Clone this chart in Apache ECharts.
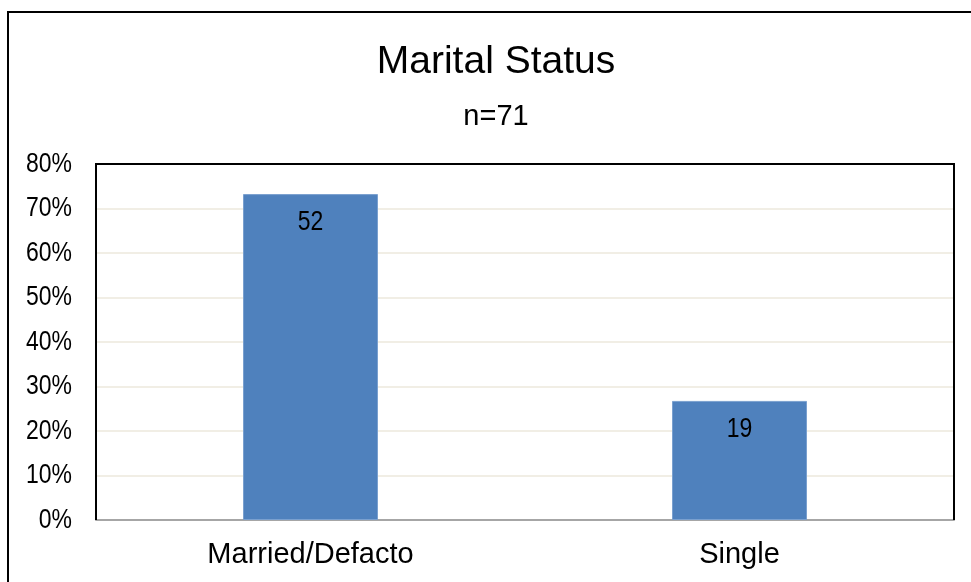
<!DOCTYPE html>
<html>
<head>
<meta charset="utf-8">
<style>
  html, body { margin: 0; padding: 0; background: #ffffff; }
  #chart { width: 971px; height: 582px; }
</style>
<script src="https://cdn.jsdelivr.net/npm/echarts@6/dist/echarts.min.js"></script>
</head>
<body>
<div id="chart"></div>
<script>
// Respondents by marital status
const categories = ['Married/Defacto', 'Single'];
const counts = [52, 19];
const total = 71;
const yTicks = [0, 10, 20, 30, 40, 50, 60, 70, 80];

const shares = counts.map(c => c / total * 100);

const regular = "'Liberation Sans', Arial, sans-serif";
// condensed look for numbers: regular face squeezed horizontally
const NARROW = 0.82;

const W = 971, H = 582;
const GRID = { left: 96, right: 17, top: 164, bottom: 62 };

const chart = echarts.init(document.getElementById('chart'), null, { renderer: 'canvas' });

chart.setOption({
  animation: false,
  backgroundColor: '#ffffff',
  title: [
    {
      text: 'Marital Status',
      left: 491, top: 38, textAlign: 'center',
      textStyle: { fontFamily: regular, fontSize: 39, fontWeight: 'normal', color: '#000' }
    },
    {
      text: 'n=' + total,
      left: 491, top: 97, textAlign: 'center',
      textStyle: { fontFamily: regular, fontSize: 29, fontWeight: 'normal', color: '#000' }
    }
  ],
  grid: {
    left: GRID.left, right: GRID.right, top: GRID.top, bottom: GRID.bottom,
    show: false
  },
  xAxis: {
    type: 'category',
    data: categories,
    axisTick: { show: false },
    axisLine: { show: true, lineStyle: { color: '#a6a6a6', width: 2 } },
    axisLabel: { fontFamily: regular, fontSize: 29, color: '#000', margin: 20 }
  },
  yAxis: {
    type: 'value',
    min: yTicks[0],
    max: yTicks[yTicks.length - 1],
    interval: 10,
    axisLine: { show: false },
    axisTick: { show: false },
    splitLine: { show: true, lineStyle: { color: '#ece9dd', width: 1.5 } },
    axisLabel: { show: false }
  },
  series: [
    {
      type: 'bar',
      data: shares,
      barWidth: 135,
      itemStyle: { color: '#4f81bd', borderColor: '#7aa0cf', borderWidth: 1 },
      label: { show: false }
    }
  ]
});

// Narrow tick labels and bar count labels placed through the axis scales
const gLeft = GRID.left, gTop = GRID.top;
const gRight = W - GRID.right, gBottom = H - GRID.bottom;

const graphics = [
  {
    type: 'rect',
    shape: { x: 8, y: 12, width: 990, height: 600 },
    style: { fill: 'none', stroke: '#000', lineWidth: 2 },
    silent: true, z: 100
  },
  {
    type: 'polyline',
    shape: { points: [[gLeft, gBottom], [gLeft, gTop], [gRight, gTop], [gRight, gBottom]] },
    style: { fill: 'none', stroke: '#000', lineWidth: 2 },
    silent: true, z: 100
  }
];

yTicks.forEach(v => {
  const y = chart.convertToPixel({ yAxisIndex: 0 }, v);
  graphics.push({
    type: 'text',
    x: gLeft - 24, y: y, scaleX: NARROW,
    style: {
      text: v + '%', x: 0, y: 0, align: 'right', verticalAlign: 'middle',
      fontFamily: regular, fontSize: 28, fill: '#000'
    },
    silent: true, z: 100
  });
});

counts.forEach((c, i) => {
  const p = chart.convertToPixel({ seriesIndex: 0 }, [i, shares[i]]);
  graphics.push({
    type: 'text',
    x: p[0], y: p[1] + 28.5, scaleX: NARROW,
    style: {
      text: String(c), x: 0, y: 0, align: 'center', verticalAlign: 'middle',
      fontFamily: regular, fontSize: 28, fill: '#000'
    },
    silent: true, z: 100
  });
});

chart.setOption({ graphic: graphics });
</script>
</body>
</html>
